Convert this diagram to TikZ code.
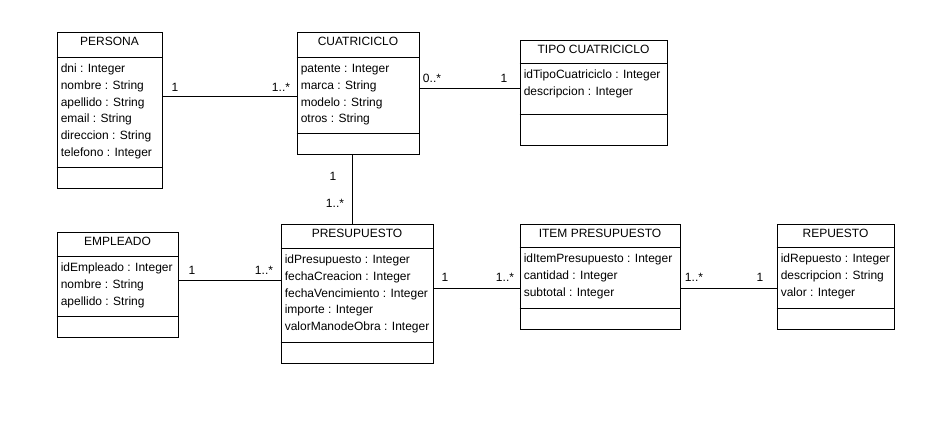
\documentclass[tikz,border=0pt]{standalone}
\usepackage{fontspec}
\setmainfont{Liberation Sans}
\usetikzlibrary{fit,calc}
\tikzset{
  txt/.style={inner sep=0pt, font=\fontsize{9pt}{10pt}\selectfont},
  classbox/.style={draw, inner sep=0pt, line width=0.75pt},
  assoc/.style={draw, line width=0.75pt},
  mult/.style={txt, anchor=base}
}
\newcommand\umlclass[9]{%
  \node[classbox, fit={(#2,#3) (#4,#5)}] (#1) {};
  \draw[line width=0.75pt] (#1.west |- 0,#6) -- (#1.east |- 0,#6);
  \draw[line width=0.75pt] (#1.west |- 0,#7) -- (#1.east |- 0,#7);
  \node[txt, anchor=base] (#1-title) at ($(#1.north)+(0,13.8)$) {#8};
  \foreach \a [count=\i] in {#9} {
    \node[txt, anchor=base west] (#1-a\i) at ({#2+3.5},{#6+15.6+16.7*(\i-1)}) {\a};
  }%
}
\begin{document}
\begin{tikzpicture}[x=0.75pt,y=-0.75pt]
\useasboundingbox[fill=white] (0,0) rectangle (951,443);

\umlclass{persona}{57}{32}{162}{188}{57}{167}{PERSONA}{dni : Integer,nombre : String,apellido : String,email : String,direccion : String,telefono : Integer}
\umlclass{cuat}{297}{32}{419}{154}{57}{133}{CUATRICICLO}{patente : Integer,marca : String,modelo : String,otros : String}
\umlclass{tipo}{520}{40}{667}{145}{63}{114}{TIPO CUATRICICLO}{idTipoCuatriciclo : Integer,descripcion : Integer}
\umlclass{empl}{57}{232}{178}{337}{256}{316}{EMPLEADO}{idEmpleado : Integer,nombre : String,apellido : String}
\umlclass{pres}{281}{224}{433}{363}{248}{342}{PRESUPUESTO}{idPresupuesto : Integer,fechaCreacion : Integer,fechaVencimiento : Integer,importe : Integer,valorManodeObra : Integer}
\umlclass{item}{520}{224}{680}{329}{247}{308}{ITEM PRESUPUESTO}{idItemPresupuesto : Integer,cantidad : Integer,subtotal : Integer}
\umlclass{rep}{777}{224}{894}{329}{247}{308}{REPUESTO}{idRepuesto : Integer,descripcion : String,valor : Integer}

% connectors
\draw[assoc] (persona.east |- 0,96) -- (cuat.west |- 0,96);
\draw[assoc] (cuat.east |- 0,88) -- (tipo.west |- 0,88);
\draw[assoc] (cuat.south -| 352,0) -- (pres.north -| 352,0);
\draw[assoc] (empl.east |- 0,280) -- (pres.west |- 0,280);
\draw[assoc] (pres.east |- 0,288) -- (item.west |- 0,288);
\draw[assoc] (item.east |- 0,288) -- (rep.west |- 0,288);

% multiplicities
\node[mult] (m1) at (175,91.3) {1};
\node[mult] (m2) at (281,91.3) {1..*};
\node[mult] (m3) at (432,82.3) {0..*};
\node[mult] (m4) at (504,82.3) {1};
\node[mult] (m5) at (333,180.3) {1};
\node[mult] (m6) at (335,207.3) {1..*};
\node[mult] (m7) at (192,274.3) {1};
\node[mult] (m8) at (264,274.3) {1..*};
\node[mult] (m9) at (445,281.3) {1};
\node[mult] (m10) at (505,281.3) {1..*};
\node[mult] (m11) at (694,281.3) {1..*};
\node[mult] (m12) at (760,281.3) {1};
\end{tikzpicture}
\end{document}
